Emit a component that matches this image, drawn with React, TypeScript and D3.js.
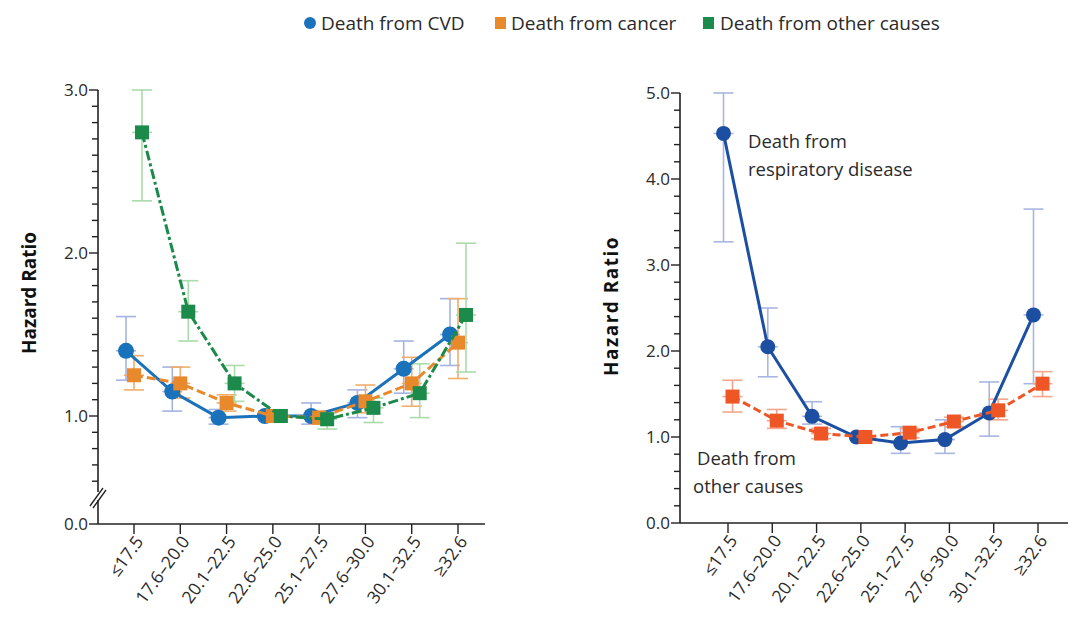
import React from "react";
import * as d3 from "d3";

const categories = ["≤17.5", "17.6–20.0", "20.1–22.5", "22.6–25.0", "25.1–27.5", "27.6–30.0", "30.1–32.5", "≥32.6"];

// Left panel
const cvdHR = [1.40, 1.15, 0.99, 1.00, 1.00, 1.08, 1.29, 1.50];
const cvdLo = [1.22, 1.03, 0.95, 1.00, 0.95, 0.99, 1.14, 1.31];
const cvdHi = [1.61, 1.30, 1.04, 1.00, 1.08, 1.16, 1.46, 1.72];

const cancerHR = [1.25, 1.20, 1.08, 1.00, 0.99, 1.09, 1.20, 1.45];
const cancerLo = [1.16, 1.11, 1.03, 1.00, 0.95, 1.02, 1.06, 1.23];
const cancerHi = [1.37, 1.30, 1.13, 1.00, 1.03, 1.19, 1.36, 1.72];

const otherHR = [2.74, 1.64, 1.20, 1.00, 0.98, 1.05, 1.14, 1.62];
const otherLo = [2.32, 1.46, 1.09, 1.00, 0.92, 0.96, 0.99, 1.27];
const otherHi = [3.00, 1.83, 1.31, 1.00, 1.02, 1.11, 1.32, 2.06];

// Right panel
const respHR = [4.53, 2.05, 1.24, 1.00, 0.93, 0.97, 1.28, 2.42];
const respLo = [3.27, 1.70, 1.15, 1.00, 0.81, 0.81, 1.01, 1.62];
const respHi = [5.00, 2.50, 1.41, 1.00, 1.12, 1.20, 1.64, 3.65];

const otherRHR = [1.47, 1.19, 1.04, 1.00, 1.05, 1.18, 1.31, 1.62];
const otherRLo = [1.29, 1.10, 0.98, 1.00, 0.99, 1.12, 1.20, 1.47];
const otherRHi = [1.66, 1.32, 1.10, 1.00, 1.10, 1.23, 1.44, 1.76];

const leftMajorTicks = [0, 1, 2, 3];
const rightMajorTicks = [0, 1, 2, 3, 4, 5];

const FONT = "'Open Sans', 'Noto Sans', sans-serif";
const TEXT = "#2a2a2a";

type Series = {
  hr: number[]; lo: number[]; hi: number[];
  color: string; ci: string; dash: string | null; shape: "circle" | "square"; dx: number; size: number;
};

function Panel({ x, y, series, axisX, axisY, xEnd, minorTicks, majorTicks, brk, capW }: any) {
  return (
    <g>
      {/* axes */}
      <line x1={axisX} x2={axisX} y1={y(majorTicks[majorTicks.length - 1])} y2={axisY} stroke="#222" strokeWidth={1.6} />
      <line x1={axisX} x2={xEnd} y1={axisY} y2={axisY} stroke="#222" strokeWidth={1.6} />
      {minorTicks.map((t: number, i: number) => (
        <line key={"mn" + i} x1={axisX - 6} x2={axisX} y1={y(t)} y2={y(t)} stroke="#222" strokeWidth={1.4} />
      ))}
      {majorTicks.map((t: number) => (
        <g key={"mj" + t}>
          <line x1={axisX - 9} x2={axisX} y1={y(t)} y2={y(t)} stroke="#222" strokeWidth={1.4} />
          <text x={axisX - 10} y={y(t)} dy="0.36em" textAnchor="end" fontSize={17} fill={TEXT} fontFamily={FONT}>
            {t.toFixed(1)}
          </text>
        </g>
      ))}
      {brk && (
        <g>
          <line x1={axisX} x2={axisX} y1={brk - 4} y2={brk + 4} stroke="#fff" strokeWidth={4} />
          <line x1={axisX - 8} x2={axisX + 5} y1={brk + 10} y2={brk - 8} stroke="#222" strokeWidth={1.3} />
          <line x1={axisX - 5} x2={axisX + 8} y1={brk + 12} y2={brk - 6} stroke="#222" strokeWidth={1.3} />
        </g>
      )}
      {categories.map((c) => (
        <g key={"xt" + c}>
          <line x1={x(c)} x2={x(c)} y1={axisY} y2={axisY + 10} stroke="#222" strokeWidth={1.4} />
          <text
            transform={`translate(${x(c) + 5},${axisY + 14}) rotate(-54)`}
            textAnchor="end"
            dy="0.36em"
            fontSize={17.5}
            fill={TEXT}
            fontFamily={FONT}
          >
            {c}
          </text>
        </g>
      ))}
      {/* error bars */}
      {series.map((s: Series, si: number) =>
        categories.map((c, i) => {
          if (s.lo[i] === s.hi[i]) return null;
          const cx = x(c) + s.dx;
          return (
            <g key={"eb" + si + i} stroke={s.ci} strokeWidth={1.6} fill="none">
              <line x1={cx} x2={cx} y1={y(s.lo[i])} y2={y(s.hi[i])} />
              <line x1={cx - capW / 2} x2={cx + capW / 2} y1={y(s.lo[i])} y2={y(s.lo[i])} />
              <line x1={cx - capW / 2} x2={cx + capW / 2} y1={y(s.hi[i])} y2={y(s.hi[i])} />
              <line x1={cx - capW / 2} x2={cx + capW / 2} y1={y(s.hr[i])} y2={y(s.hr[i])} />
            </g>
          );
        })
      )}
      {/* lines and markers */}
      {series.map((s: Series, si: number) => (
        <g key={"s" + si}>
          <path
            d={d3.line<number>().x((_, i) => x(categories[i]) + s.dx).y((v) => y(v))(s.hr) || ""}
            fill="none"
            stroke={s.color}
            strokeWidth={3}
            strokeDasharray={s.dash || undefined}
          />
          {s.hr.map((v, i) => {
            const cx = x(categories[i]) + s.dx;
            const cy = y(v);
            return s.shape === "circle" ? (
              <circle key={i} cx={cx} cy={cy} r={s.size / 2} fill={s.color} />
            ) : (
              <rect key={i} x={cx - s.size / 2} y={cy - s.size / 2} width={s.size} height={s.size} fill={s.color} />
            );
          })}
        </g>
      ))}
    </g>
  );
}

export default function App() {
  // Left panel scales (axis break between 0 and 0.5)
  const xL = d3.scalePoint<string>().domain(categories).range([134, 458]);
  const yL = d3.scaleLinear().domain([0, 0.5, 3]).range([524, 497.5, 90]);
  const minorL = d3.range(6, 31).map((d) => d / 10).filter((d) => Math.abs(d - Math.round(d)) > 1e-6);

  const xR = d3.scalePoint<string>().domain(categories).range([728, 1038]);
  const yR = d3.scaleLinear().domain([0, 5]).range([523, 93]);
  const minorR = d3.range(1, 25).map((d) => d / 5).filter((d) => Math.abs(d - Math.round(d)) > 1e-6);

  const leftSeries: Series[] = [
    { hr: cvdHR, lo: cvdLo, hi: cvdHi, color: "#1a72bb", ci: "#a4b3e3", dash: null, shape: "circle", dx: -8, size: 16 },
    { hr: cancerHR, lo: cancerLo, hi: cancerHi, color: "#e8892b", ci: "#f1ad69", dash: "9,4", shape: "square", dx: 0, size: 14 },
    { hr: otherHR, lo: otherLo, hi: otherHi, color: "#1b8a4a", ci: "#aadbaa", dash: "10,3,3,3", shape: "square", dx: 8, size: 14 },
  ];
  const rightSeries: Series[] = [
    { hr: respHR, lo: respLo, hi: respHi, color: "#1c4fa1", ci: "#a9b6e2", dash: null, shape: "circle", dx: -4.5, size: 15 },
    { hr: otherRHR, lo: otherRLo, hi: otherRHi, color: "#ee5626", ci: "#f5a68c", dash: "8,4", shape: "square", dx: 4.5, size: 14 },
  ];

  return (
    <svg width={1071} height={623} style={{ position: "absolute", left: 0, top: 0, background: "#fff" }}>
      {/* Legend */}
      <g fontFamily={FONT} fontSize={19} fill={TEXT}>
        <circle cx={310} cy={23} r={6} fill="#1a72bb" />
        <text x={321} y={23} dy="0.35em">Death from CVD</text>
        <rect x={495} y={17} width={11} height={12} fill="#e8892b" />
        <text x={511} y={23} dy="0.35em">Death from cancer</text>
        <rect x={703} y={17} width={11} height={12} fill="#1b8a4a" />
        <text x={720} y={23} dy="0.35em">Death from other causes</text>
      </g>

      <Panel x={xL} y={yL} series={leftSeries} axisX={98} axisY={524} xEnd={485}
        minorTicks={minorL} majorTicks={leftMajorTicks} brk={496} capW={20} />
      <Panel x={xR} y={yR} series={rightSeries} axisX={680} axisY={523} xEnd={1068}
        minorTicks={minorR} majorTicks={rightMajorTicks} brk={null} capW={20} />

      {/* Axis titles */}
      <text transform="translate(36,293) rotate(-90)" textAnchor="middle" fontFamily={FONT} fontWeight="bold" fontSize={19} fill="#111">
        Hazard Ratio
      </text>
      <text transform="translate(618,306) rotate(-90)" textAnchor="middle" fontFamily={FONT} fontWeight="bold" fontSize={19} letterSpacing={1.5} fill="#111">
        Hazard Ratio
      </text>

      {/* Annotations */}
      <g fontFamily={FONT} fontSize={18.5} fill={TEXT}>
        <text x={748} y={148}>Death from</text>
        <text x={748} y={176}>respiratory disease</text>
        <text x={697} y={465}>Death from</text>
        <text x={693} y={493}>other causes</text>
      </g>
    </svg>
  );
}
